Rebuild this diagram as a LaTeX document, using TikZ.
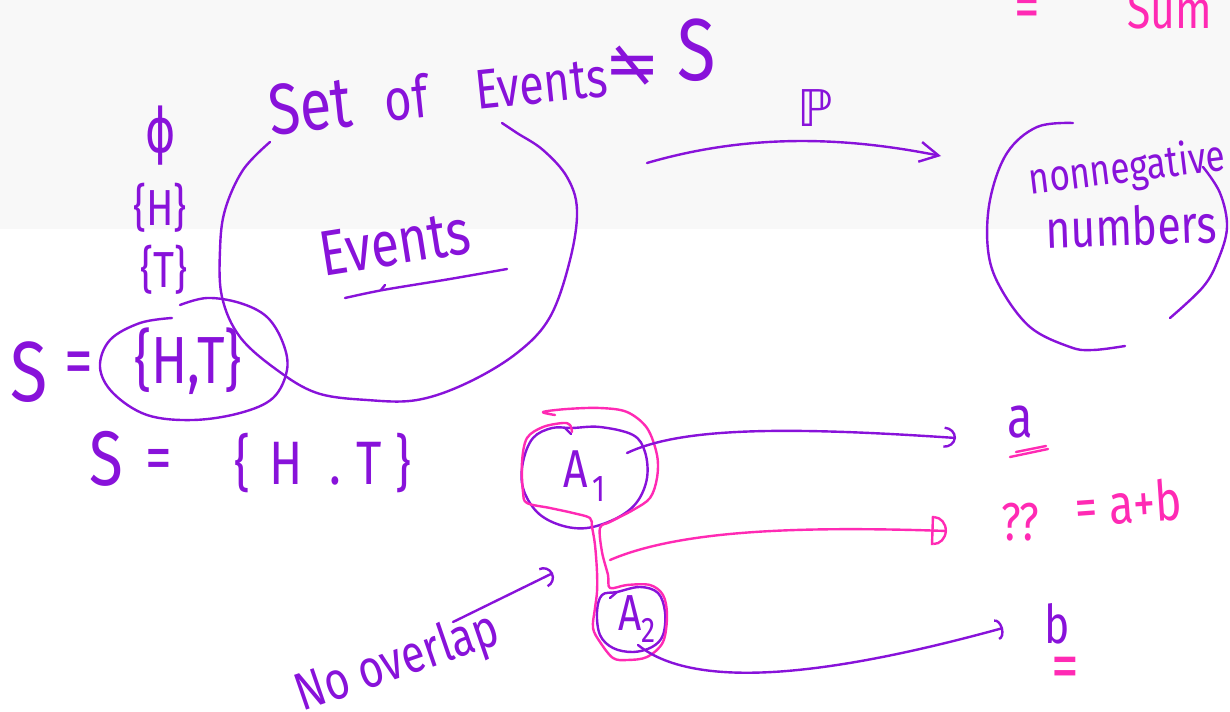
\documentclass[tikz,border=0pt]{standalone}
\usepackage{graphicx}
\usepackage{fontspec}
\setmainfont{Fira Sans}[FakeStretch=0.8]
\newfontfamily\symf{DejaVu Sans}
\usetikzlibrary{arrows.meta}
\definecolor{ink}{RGB}{136,18,218}
\definecolor{hot}{RGB}{255,42,180}
\definecolor{board}{RGB}{248,248,248}
\newcommand{\fsz}[1]{\fontsize{#1}{#1}\selectfont}

\begin{document}
\begin{tikzpicture}[x=0.75pt,y=-0.75pt,
  pen/.style={draw=ink,line width=1.8pt,line cap=round,line join=round},
  hotpen/.style={pen,draw=hot},
  hand/.style={text=ink,inner sep=0pt},
  hothand/.style={text=hot,inner sep=0pt},
  barb/.style={-{Straight Barb[length=14pt,width=15pt]}},
  hooktip/.style={-{Arc Barb[length=#1,width=16pt]}},
  dtip/.style={-{Bar[width=22pt] Arc Barb[length=10pt,width=22pt]}}]

\useasboundingbox (0,0) rectangle (1230,712);
\fill[white] (0,0) rectangle (1230,712);
\fill[board] (0,0) rectangle (1230,229);

% ---- heading over the event set
\node[hand,rotate=6,font=\fsz{54}] (tset) at (310,106) {Set};
\node[hand,rotate=6,font=\fsz{44}] (tof) at (406,98) {of};
\node[hand,rotate=6,font=\fsz{42}] (tev) at (541,84) {Events};
\node[hand,font=\symf\fsz{50}] (tne) at (633,66) {\reflectbox{≠}};
\node[hand,font=\fsz{66}] (tS) at (697,50) {S};

% ---- events listed on the left
\node[hand,font=\symf\fsz{46}] (phi) at (161,136) {\scalebox{0.75}[1]{ϕ}};
\node[hand,font=\fsz{38}] (eH) at (160,208) {\{H\}};
\node[hand,font=\fsz{38}] (eT) at (164,270) {\{T\}};

% ---- sample space, circled
\node[hand,font=\fsz{64}] (s1) at (29,372) {S};
\node[hand,font=\fsz{54}] (eq1) at (79,369) {=};
\node[hand,font=\fsz{50}] (sHT) at (188,361) {\{H,T\}};
\draw[pen] plot[smooth,tension=0.6] coordinates {(172,318) (140,323) (110,340) (100,367) (113,393) (147,415) (193,420) (240,413) (273,398) (287,370) (283,343) (267,317) (240,303) (207,298) (180,305)};

% ---- sample space, written out
\node[hand,font=\fsz{58}] (s2) at (106,459) {S};
\node[hand,font=\fsz{50}] (eq2) at (159,465) {=};
\node[hand,font=\fsz{46}] (sHT2) at (323,463) {\{\hspace{14pt}H\hspace{20pt}.\hspace{12pt}T\hspace{10pt}\}};

% ---- the set of events
\draw[pen] plot[smooth,tension=0.6] coordinates {(270,142) (243,170) (225,210) (220,250) (222,297) (240,337) (277,370) (317,393) (367,400) (417,400) (467,383) (517,353) (550,317) (570,260) (577,210) (567,177) (543,150) (517,133) (502,123)};
\node[hand,rotate=9,font=\fsz{48}] (evin) at (395,243) {Events};
\draw[pen] plot[smooth] coordinates {(345,298) (383,290) (450,279) (507,269)};
\draw[pen] (381,290) -- (385,285);

% ---- probability map
\coordinate (pfrom) at (647,163);
\coordinate (pto) at (941,156);
\draw[pen,barb] (pfrom) .. controls (760,130) and (860,140) .. (pto);
\node[hand,font=\symf\fsz{38}] (Pl) at (815,108) {ℙ};

% ---- target set
\draw[pen] plot[smooth,tension=0.6] coordinates {(1073,123) (1037,127) (1007,153) (990,200) (988,250) (1000,287) (1030,327) (1070,347) (1093,350) (1125,346)};
\draw[pen] plot[smooth,tension=0.6] coordinates {(1203,167) (1220,193) (1227,227) (1218,260) (1203,287) (1170,318)};
\node[hand,rotate=7,font=\fsz{33}] (nonneg) at (1127,170) {nonnegative};
\node[hand,rotate=2,font=\fsz{40}] (nums) at (1131,226) {numbers};

% ---- top corner note
\node[hothand,font=\fsz{48}] (eqtop) at (1027,14) {=};
\node[hothand,font=\fsz{40},anchor=base] (sum) at (1170,29) {Sum};

% ---- two disjoint events
\draw[pen] plot[smooth cycle,tension=0.6] coordinates {(572,428) (600,427) (633,435) (645,452) (647,478) (637,502) (617,518) (587,528) (560,525) (537,512) (523,488) (523,462) (533,438) (552,428)};
\draw[pen] (565,428) -- (571,434);
\node[hand,font=\fsz{40}] (A1) at (585,476) {A\hspace{3pt}\textsubscript{1}};
\draw[pen] plot[smooth cycle,tension=0.6] coordinates {(617,592) (640,587) (658,593) (665,612) (663,635) (652,647) (633,652) (613,648) (600,635) (597,612) (602,595)};
\draw[pen] (610,598) -- (617,592);
\node[hand,font=\fsz{38}] (A2) at (637,619) {A\textsubscript{2}};

% ---- lasso round both
\draw[hotpen] plot[smooth,tension=0.55] coordinates {(555,415) (543,412) (567,409) (600,408) (627,412) (647,428) (657,455) (657,478) (650,498) (633,510) (610,522) (600,528) (602,552) (608,575) (610,588) (627,585) (650,585) (663,595) (667,615) (663,642) (647,657) (627,660) (613,658) (600,642) (593,628) (595,608) (597,592) (597,572) (595,545) (592,527) (590,518) (573,513) (550,508) (527,503) (523,492) (522,462) (527,438) (543,427) (563,423) (570,425) (572,432)};

% ---- where each one is sent
\coordinate (a1o) at (627,453);
\coordinate (ato) at (956,438);
\draw[pen,hooktip=9pt] (a1o) .. controls (680,428) and (780,426) .. (ato);
\node[hand,font=\fsz{44}] (va) at (1020,422) {a};
\draw[hotpen] (1010,457) -- (1048,449);
\draw[hotpen] (1016,452) -- (1046,446);

\coordinate (uo) at (610,560);
\coordinate (uto) at (947,531);
\draw[hotpen,dtip] (uo) .. controls (680,530) and (800,526) .. (uto);
\node[hothand,font=\fsz{40}] (qq) at (1020,522) {??};
\node[hothand,rotate=4,font=\fsz{42}] (sumab) at (1128,503) {= a+b};

\coordinate (a2o) at (638,645);
\coordinate (bto) at (1003,628);
\draw[pen,hooktip=5pt] (a2o) .. controls (700,695) and (850,670) .. (bto);
\node[hand,font=\fsz{40}] (vb) at (1057,624) {b};
\node[hothand,font=\fsz{52}] (eqb) at (1065,673) {=};

% ---- note on disjointness
\coordinate (nfrom) at (453,622);
\coordinate (nto) at (553,573);
\draw[pen,hooktip=8pt] (nfrom) -- (nto);
\node[hand,rotate=19,font=\fsz{40}] (nover) at (398,664) {No overlap};
\end{tikzpicture}
\end{document}
